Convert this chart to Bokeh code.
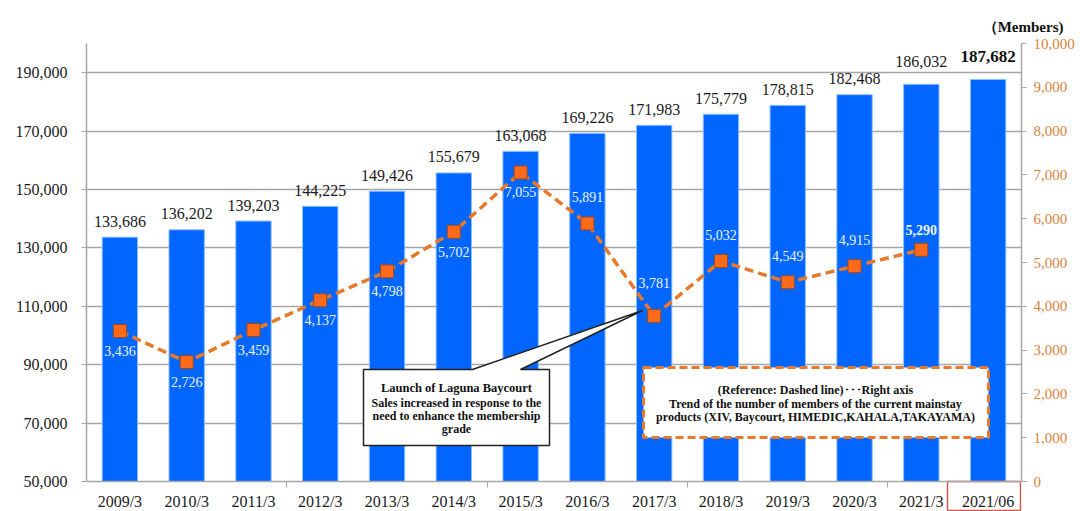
from bokeh.plotting import figure
from bokeh.models import (Range1d, LinearAxis, FixedTicker, NumeralTickFormatter)
from bokeh.core.properties import value
from bokeh.embed import file_html
from bokeh.resources import INLINE

# ---------------- data ----------------
categories = ["2009/3", "2010/3", "2011/3", "2012/3", "2013/3", "2014/3", "2015/3",
              "2016/3", "2017/3", "2018/3", "2019/3", "2020/3", "2021/3", "2021/06"]
members = [133686, 136202, 139203, 144225, 149426, 155679, 163068,
           169226, 171983, 175779, 178815, 182468, 186032, 187682]
mainstay = [3436, 2726, 3459, 4137, 4798, 5702, 7055,
            5891, 3781, 5032, 4549, 4915, 5290]
left_ticks = [50000, 70000, 90000, 110000, 130000, 150000, 170000, 190000]
right_ticks = [0, 1000, 2000, 3000, 4000, 5000, 6000, 7000, 8000, 9000, 10000]

callout_lines = ["Launch of Laguna Baycourt",
                 "Sales increased in response to the",
                 "need to enhance the membership",
                 "grade"]
legend_lines = ["(Reference: Dashed line)\uff65\uff65\uff65Right axis",
                "Trend of the number of members of the current mainstay",
                "products (XIV, Baycourt, HIMEDIC,KAHALA,TAKAYAMA)"]
unit_label = "\uff08Members)"

# ---------------- styling / geometry ----------------
SERIF = value("Liberation Serif")
BLUE = "#0066FF"
ORANGE = "#E8792B"
AXIS_ORANGE = "#D9823A"
GRID = "#A6A6A6"

Y0, Y1 = 50000, 200000
R0, R1 = 0, 10000
N = len(categories)

W, H = 1080, 511
FL, FR, FT, FB = 86, 1021, 43, 481   # value area in canvas pixels
UL = (Y1 - Y0) / (FB - FT)           # left-axis units per pixel
UR = (R1 - R0) / (FB - FT)           # right-axis units per pixel


def px(xp, yp):
    x = (xp - FL) / (FR - FL) * N
    y = Y0 + (FB - yp) * UL
    return x, y


xs = [i + 0.5 for i in range(N)]

# frame extends down to the canvas bottom so the highlight box around the
# last category label can be drawn; axes are bounded to the value area
p = figure(width=W, height=H, output_backend="svg", toolbar_location=None,
           x_range=Range1d(0, N),
           y_range=Range1d(Y0 - (H - FB) * UL, Y1),
           min_border_left=FL, min_border_right=W - FR, min_border_top=FT,
           min_border_bottom=0, outline_line_color=None,
           background_fill_color="white", border_fill_color="white")
p.extra_y_ranges = {"right": Range1d(R0 - (H - FB) * UR, R1)}

# unit label as the title, pushed to the top right
p.title.text = unit_label
p.title.align = "right"
p.title.offset = -42
p.title.standoff = 18
p.title.text_font = "Liberation Serif"
p.title.text_font_size = "15px"
p.title.text_font_style = "bold"
p.title.text_color = "#111111"

# x axis (fixed at the value baseline)
p.xaxis.fixed_location = Y0
p.xaxis.ticker = FixedTicker(ticks=xs, minor_ticks=[3, 6, 9, 12])
p.xaxis.major_label_overrides = {x: c for x, c in zip(xs, categories)}
p.xaxis.major_tick_out = 0
p.xaxis.major_tick_in = 0
p.xaxis.minor_tick_out = 6
p.xaxis.minor_tick_in = 0
p.xaxis.minor_tick_line_color = GRID
p.xaxis.axis_line_color = GRID
p.xaxis.axis_line_width = 1.5
p.xaxis.major_label_text_font = "Liberation Serif"
p.xaxis.major_label_text_font_size = "16px"
p.xaxis.major_label_text_color = "#1a1a1a"
p.xaxis.major_label_standoff = 5

# left axis
p.yaxis.ticker = FixedTicker(ticks=left_ticks)
p.yaxis.bounds = (Y0, Y1)
p.yaxis.formatter = NumeralTickFormatter(format="0,0")
p.yaxis.major_tick_out = 5
p.yaxis.major_tick_in = 0
p.yaxis.minor_tick_line_color = None
p.yaxis.major_tick_line_color = GRID
p.yaxis.axis_line_color = GRID
p.yaxis.axis_line_width = 1.5
p.yaxis.major_label_text_font = "Liberation Serif"
p.yaxis.major_label_text_font_size = "16px"
p.yaxis.major_label_text_color = "#1a1a1a"
p.yaxis.major_label_standoff = 14

# right axis
ra = LinearAxis(y_range_name="right", ticker=FixedTicker(ticks=right_ticks),
                formatter=NumeralTickFormatter(format="0,0"), bounds=(R0, R1))
ra.major_tick_out = 5
ra.major_tick_in = 0
ra.minor_tick_line_color = None
ra.major_tick_line_color = GRID
ra.axis_line_color = GRID
ra.axis_line_width = 1.5
ra.major_label_text_font = "Liberation Serif"
ra.major_label_text_font_size = "15px"
ra.major_label_text_color = AXIS_ORANGE
ra.major_label_standoff = 7
p.add_layout(ra, "right")

p.xgrid.grid_line_color = None
p.ygrid.ticker = FixedTicker(ticks=left_ticks[1:])
p.ygrid.grid_line_color = GRID
p.ygrid.grid_line_width = 1.5

# bars
p.vbar(x=xs, top=members, bottom=Y0, width=0.53, fill_color=BLUE,
       line_color="#8CC0FF", line_width=1)

# bar value labels
bar_txt = [f"{v:,}" for v in members]
bar_off = [-16] * (N - 2) + [-23, -23]
p.text(x=xs[:-1], y=members[:-1], text=bar_txt[:-1], y_offset=bar_off[:-1],
       text_align="center", text_baseline="middle", text_font=SERIF,
       text_font_size="16px", text_color="#1a1a1a")
p.text(x=xs[-1:], y=members[-1:], text=bar_txt[-1:], y_offset=bar_off[-1:],
       text_align="center", text_baseline="middle", text_font=SERIF,
       text_font_size="17px", text_font_style="bold", text_color="#111111")

# mainstay line
M = len(mainstay)
p.line(x=xs[:M], y=mainstay, y_range_name="right", line_color=ORANGE,
       line_width=3.5, line_dash="9 5")
p.scatter(x=xs[:M], y=mainstay, y_range_name="right", marker="square", size=13,
          fill_color="#FF6A1A", line_color="#9A4A22", line_width=1)

line_txt = [f"{v:,}" for v in mainstay]
line_off = [20 if i < 7 else -26 for i in range(M)]
line_off[8] = -33
line_off[12] = -20
p.text(x=xs[:M - 1], y=mainstay[:-1], text=line_txt[:-1], y_offset=line_off[:-1],
       y_range_name="right", text_align="center", text_baseline="middle",
       text_font=SERIF, text_font_size="14px", text_color="#EEF4FF")
p.text(x=xs[M - 1:M], y=mainstay[-1:], text=line_txt[-1:], y_offset=line_off[-1:],
       y_range_name="right", text_align="center", text_baseline="middle",
       text_font=SERIF, text_font_size="14px", text_font_style="bold",
       text_color="#EEF4FF")

# callout box with pointer
poly_px = [(363, 369), (472, 369), (642, 310), (520, 369), (549, 369),
           (549, 445), (363, 445)]
cx = [px(a, b)[0] for a, b in poly_px]
cy = [px(a, b)[1] for a, b in poly_px]
p.patch(cx, cy, fill_color="white", line_color="#222222", line_width=1.5)
for line, yp in zip(callout_lines, [387, 402, 415, 428]):
    tx, ty = px(456, yp)
    p.text(x=[tx], y=[ty], text=[line], text_align="center", text_baseline="middle",
           text_font=SERIF, text_font_size="12.5px" if yp == 387 else "12px",
           text_font_style="bold", text_color="#111111")

# legend-like reference box
l_, t_ = px(643, 367)
r_, b_ = px(988, 437)
p.quad(left=[l_], right=[r_], top=[t_], bottom=[b_], fill_color="white",
       line_color=ORANGE, line_width=3, line_dash="8 4")
for line, yp in zip(legend_lines, [389, 403, 416]):
    tx, ty = px(815, yp)
    p.text(x=[tx], y=[ty], text=[line], text_align="center", text_baseline="middle",
           text_font=SERIF, text_font_size="12px", text_font_style="bold",
           text_color="#111111")

# red box around the latest period label
bl, bt = px(947, 481)
br, bb = px(1020, 510)
p.quad(left=[bl], right=[br], top=[bt], bottom=[bb], fill_alpha=0,
       line_color="#D9534F", line_width=1.5)

open("out.html", "w").write(file_html(p, INLINE))
